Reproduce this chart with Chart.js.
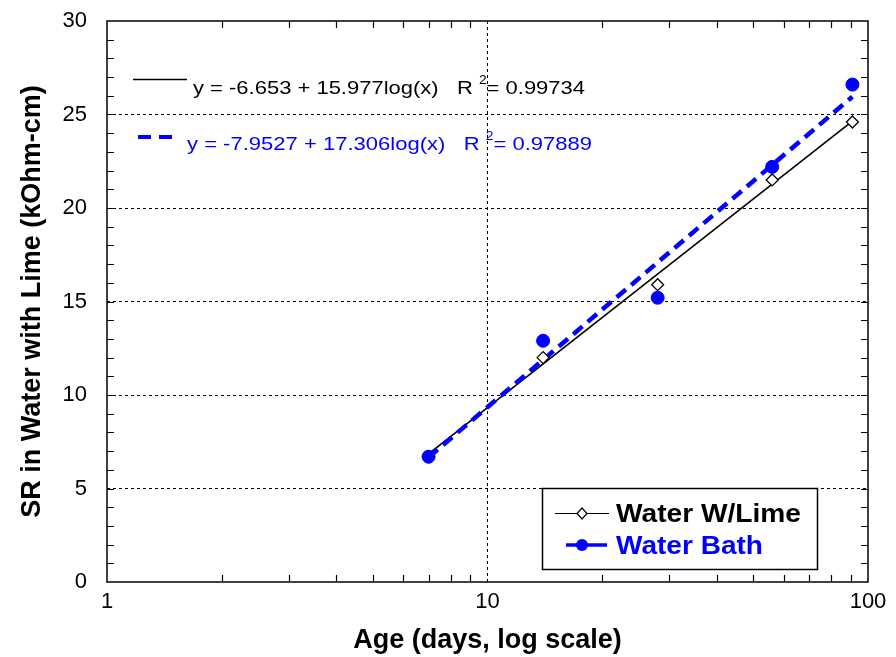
<!DOCTYPE html>
<html>
<head>
<meta charset="utf-8">
<script src="https://cdn.jsdelivr.net/npm/chart.js@4/dist/chart.umd.min.js"></script>
<style>
  html, body { margin: 0; padding: 0; background: #fff; }
  #wrap { width: 896px; height: 657px; }
</style>
</head>
<body>
<div id="wrap"><canvas id="srChart"></canvas></div>
<script>
// measured values (age in days, SR in kOhm-cm)
const ageDays = [7, 14, 28, 56, 91];
const limeSR = [6.7, 12.0, 15.9, 21.5, 24.6];
const bathSR = [6.7, 12.9, 15.2, 22.2, 26.6];

// ends of the two log fits, as drawn
const fitAges = [7, 91];
const limeFit = [6.85, 24.65];
const bathFit = [6.67, 25.95];

const xTickLabels = [1, 10, 100];
const yTickStep = 5;
const limeEq = ['y = -6.653 + 15.977log(x)   R ', '2', '= 0.99734'];
const bathEq = ['y = -7.9527 + 17.306log(x)   R ', '2', '= 0.97889'];

const BLUE = '#0000ff';
const FONT = '"Liberation Sans", Arial, sans-serif';

const pts = (xs, ys) => xs.map((x, i) => ({ x: x, y: ys[i] }));

// text squeezed/stretched horizontally to a given width
function wideText(ctx, text, x, y, width) {
  const w = ctx.measureText(text).width;
  ctx.save();
  ctx.translate(x, y);
  ctx.scale(width / w, 1);
  ctx.fillText(text, 0, 0);
  ctx.restore();
}

// frame, inward ticks, equations, legend box
const extras = {
  id: 'extras',
  afterDatasetsDraw(chart) {
    const ctx = chart.ctx;
    const a = chart.chartArea;
    const xs = chart.scales.x, ys = chart.scales.y;
    ctx.save();
    ctx.strokeStyle = '#000';
    ctx.lineWidth = 1.5;
    ctx.strokeRect(a.left, a.top, a.right - a.left, a.bottom - a.top);

    ctx.lineWidth = 1.2;
    ctx.beginPath();
    for (let v = 1; v < 30; v++) {
      const y = Math.round(ys.getPixelForValue(v)) + 0.5;
      ctx.moveTo(a.left, y); ctx.lineTo(a.left + 7, y);
      ctx.moveTo(a.right, y); ctx.lineTo(a.right - 7, y);
    }
    [2,3,4,5,6,7,8,9,20,30,40,50,60,70,80,90].forEach(v => {
      const x = Math.round(xs.getPixelForValue(v)) + 0.5;
      ctx.moveTo(x, a.bottom); ctx.lineTo(x, a.bottom - 7);
      ctx.moveTo(x, a.top); ctx.lineTo(x, a.top + 7);
    });
    ctx.stroke();

    // equations, stretched to the reference width
    const eq = (parts, x, y, width, color) => {
      ctx.save();
      ctx.fillStyle = color;
      ctx.textBaseline = 'alphabetic';
      ctx.font = '19px ' + FONT;
      const w0 = ctx.measureText(parts[0]).width;
      const w2 = ctx.measureText(parts[2]).width;
      ctx.font = '12px ' + FONT;
      const w1 = ctx.measureText(parts[1]).width;
      ctx.translate(x, y);
      ctx.scale(width / (w0 + w1 + w2), 1);
      ctx.font = '19px ' + FONT;
      ctx.fillText(parts[0], 0, 0);
      ctx.fillText(parts[2], w0 + w1, 0);
      ctx.font = '12px ' + FONT;
      ctx.fillText(parts[1], w0, -10);
      ctx.restore();
    };
    ctx.lineWidth = 1.5;
    ctx.strokeStyle = '#000';
    ctx.beginPath(); ctx.moveTo(133, 79.5); ctx.lineTo(187, 79.5); ctx.stroke();
    eq(limeEq, 193, 94, 392, '#000');
    ctx.strokeStyle = BLUE;
    ctx.lineWidth = 4;
    ctx.setLineDash([13, 8]);
    ctx.beginPath(); ctx.moveTo(138, 137); ctx.lineTo(180, 137); ctx.stroke();
    ctx.setLineDash([]);
    eq(bathEq, 187, 150, 405, BLUE);

    // legend
    ctx.fillStyle = '#fff';
    ctx.fillRect(542, 488, 275, 81);
    ctx.strokeStyle = '#000';
    ctx.lineWidth = 1.5;
    ctx.strokeRect(542.5, 488.5, 275, 81);
    ctx.lineWidth = 1.2;
    ctx.beginPath(); ctx.moveTo(555, 513.5); ctx.lineTo(609, 513.5); ctx.stroke();
    ctx.fillStyle = '#fff';
    ctx.beginPath();
    ctx.moveTo(582, 508); ctx.lineTo(587, 513.5); ctx.lineTo(582, 519); ctx.lineTo(577, 513.5);
    ctx.closePath(); ctx.fill(); ctx.stroke();
    ctx.strokeStyle = BLUE;
    ctx.lineWidth = 3.5;
    ctx.beginPath(); ctx.moveTo(566, 545); ctx.lineTo(607, 545); ctx.stroke();
    ctx.fillStyle = BLUE;
    ctx.beginPath(); ctx.arc(582, 545, 6, 0, Math.PI * 2); ctx.fill();

    ctx.font = 'bold 25px ' + FONT;
    ctx.textBaseline = 'middle';
    ctx.fillStyle = '#000';
    wideText(ctx, 'Water W/Lime', 616, 515, 185);
    ctx.fillStyle = BLUE;
    wideText(ctx, 'Water Bath', 616, 547, 147);
    ctx.restore();
  }
};

new Chart(document.getElementById('srChart'), {
  type: 'scatter',
  data: {
    datasets: [
      {
        label: 'Water Bath',
        data: pts(ageDays, bathSR),
        pointStyle: 'circle',
        pointRadius: 6.5,
        backgroundColor: BLUE,
        borderColor: BLUE,
        showLine: false
      },
      {
        label: 'Water W/Lime',
        data: pts(ageDays, limeSR),
        pointStyle: 'rectRot',
        pointRadius: 6,
        backgroundColor: '#fff',
        borderColor: '#000',
        borderWidth: 1.3,
        showLine: false
      },
      {
        label: 'bath fit',
        data: pts(fitAges, bathFit),
        showLine: true,
        pointRadius: 0,
        borderColor: BLUE,
        borderWidth: 4.5,
        borderDash: [12, 7]
      },
      {
        label: 'lime fit',
        data: pts(fitAges, limeFit),
        showLine: true,
        pointRadius: 0,
        borderColor: '#000',
        borderWidth: 1.6
      }
    ]
  },
  options: {
    responsive: true,
    maintainAspectRatio: false,
    animation: false,
    layout: { padding: { top: 21, right: 28, left: 0, bottom: 0 } },
    plugins: { legend: { display: false }, tooltip: { enabled: false } },
    scales: {
      x: {
        type: 'logarithmic',
        min: 1,
        max: 100,
        afterFit: s => { s.height = 75; s.paddingLeft = 0; s.paddingRight = 0; },
        grid: {
          drawTicks: false,
          color: c => (c.tick && c.tick.value === 10) ? '#000' : 'rgba(0,0,0,0)',
          lineWidth: 1
        },
        border: { display: false, dash: [3, 3] },
        ticks: {
          autoSkip: false,
          maxRotation: 0,
          padding: 7,
          color: '#000',
          font: { family: FONT, size: 22 },
          callback: v => xTickLabels.includes(v) ? String(v) : ''
        },
        title: {
          display: true,
          text: 'Age (days, log scale)',
          color: '#000',
          font: { family: FONT, size: 27, weight: 'bold' },
          padding: { top: 4, bottom: 0 }
        }
      },
      y: {
        min: 0,
        max: 30,
        afterFit: s => { s.width = 107; s.paddingTop = 0; s.paddingBottom = 0; },
        grid: {
          drawTicks: false,
          color: c => (c.tick && c.tick.value > 0 && c.tick.value < 30) ? '#000' : 'rgba(0,0,0,0)',
          lineWidth: 1
        },
        border: { display: false, dash: [3, 3] },
        ticks: {
          stepSize: yTickStep,
          padding: 20,
          color: '#000',
          font: { family: FONT, size: 22 }
        },
        title: {
          display: true,
          text: 'SR in Water with Lime (kOhm-cm)',
          color: '#000',
          font: { family: FONT, size: 27, weight: 'bold' },
          padding: { top: 16, bottom: 0 }
        }
      }
    }
  },
  plugins: [extras]
});
</script>
</body>
</html>
